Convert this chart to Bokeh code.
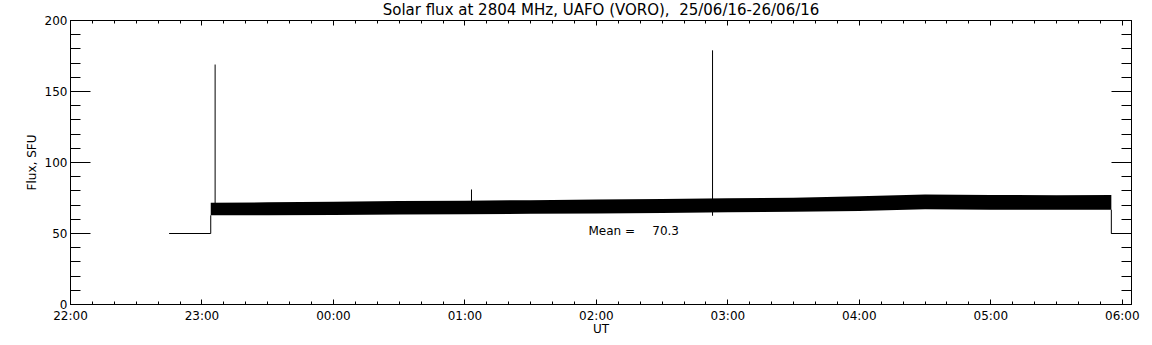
from bokeh.plotting import figure
from bokeh.models import Range1d, LinearAxis, FixedTicker, Label
from bokeh.embed import file_html
from bokeh.resources import INLINE

# ---------------- data ----------------
title_text = "Solar flux at 2804 MHz, UAFO (VORO),\u00a0 25/06/16-26/06/16"
x_tick_labels = ["22:00", "23:00", "00:00", "01:00", "02:00", "03:00", "04:00", "05:00", "06:00"]
y_ticks = [0, 50, 100, 150, 200]
y_minor = [10, 20, 30, 40, 60, 70, 80, 90, 110, 120, 130, 140, 160, 170, 180, 190]

# flat 50 SFU level before the record starts and after it stops
pre_times = ["22:45", "23:04", "23:04"]
pre_flux = [50, 50, 62.8]
post_times = ["05:55", "05:55", "06:10"]
post_flux = [66.8, 50, 50]

# envelope of the noisy record (lower / upper edge of the black band)
band_times = ["23:04", "23:30", "00:00", "00:30", "01:00", "01:30", "02:00", "02:30",
              "03:00", "03:30", "04:00", "04:30", "05:00", "05:30", "05:55"]
band_low = [62.8, 62.9, 63.0, 63.3, 63.6, 63.9, 64.1, 64.4,
            64.9, 65.3, 65.9, 67.0, 66.8, 66.7, 66.8]
band_high = [71.6, 72.0, 72.4, 72.8, 73.0, 73.5, 74.0, 74.3,
             74.8, 75.2, 76.2, 77.4, 77.1, 77.0, 77.1]

# isolated spikes
spike_times = ["23:06", "01:03", "02:53"]
spike_top = [169, 81, 179]
spike_bottom = [63, 64, 62.5]

mean_flux = 70.3


def hrs(s):
    h, m = map(int, s.split(":"))
    return ((h - 22) % 24) + m / 60.0


x_end = 8.07
p = figure(width=1152, height=345, output_backend="svg", toolbar_location=None,
           x_range=Range1d(0, x_end), y_range=Range1d(0, 200),
           min_border_left=70, min_border_right=21, min_border_top=20, min_border_bottom=41,
           background_fill_color="white", border_fill_color="white")
p.grid.visible = False
p.outline_line_color = "black"
p.outline_line_width = 1

FONT = "DejaVu Sans"

p.title.text = title_text
p.title.align = "center"
p.title.vertical_align = "top"
p.title.text_font = FONT
p.title.text_font_size = "15px"
p.title.text_font_style = "normal"
p.title.text_color = "black"
p.title.standoff = 0

# bottom axis
xa = p.xaxis[0]
xa.ticker = FixedTicker(ticks=list(range(len(x_tick_labels))),
                        minor_ticks=[i / 6.0 for i in range(0, 49)])
xa.major_label_overrides = {i: lab for i, lab in enumerate(x_tick_labels)}
xa.major_tick_in = 5
xa.major_tick_out = 0
xa.minor_tick_in = 3
xa.minor_tick_out = 0
xa.major_label_standoff = 4
xa.axis_label = "UT"
xa.axis_label_standoff = -4
xa.axis_label_text_font = FONT
xa.axis_label_text_font_size = "12px"
xa.axis_label_text_font_style = "normal"
xa.major_label_text_font = FONT
xa.major_label_text_font_size = "12px"

# left axis
ya = p.yaxis[0]
ya.ticker = FixedTicker(ticks=y_ticks, minor_ticks=y_minor)
ya.major_tick_in = 20
ya.major_tick_out = 0
ya.minor_tick_in = 10
ya.minor_tick_out = 0
ya.major_label_standoff = 3
ya.axis_label = "Flux, SFU"
ya.axis_label_standoff = 3
ya.axis_label_text_font = FONT
ya.axis_label_text_font_size = "12px"
ya.axis_label_text_font_style = "normal"
ya.major_label_text_font = FONT
ya.major_label_text_font_size = "12px"

for ax in (xa, ya):
    ax.axis_line_color = "black"
    ax.major_tick_line_color = "black"
    ax.minor_tick_line_color = "black"
    ax.major_label_text_color = "black"
    ax.axis_label_text_color = "black"

# right axis (ticks only)
ra = LinearAxis(ticker=FixedTicker(ticks=y_ticks, minor_ticks=y_minor),
                major_tick_in=20, major_tick_out=0, minor_tick_in=10, minor_tick_out=0,
                major_label_overrides={t: "" for t in y_ticks},
                major_label_text_font_size="0px", major_label_standoff=0)
p.add_layout(ra, "right")

# top axis (ticks only)
ta = LinearAxis(ticker=FixedTicker(ticks=list(range(len(x_tick_labels))),
                                   minor_ticks=[i / 6.0 for i in range(0, 49)]),
                major_tick_in=5, major_tick_out=0, minor_tick_in=3, minor_tick_out=0,
                major_label_overrides={i: "" for i in range(len(x_tick_labels))},
                major_label_text_font_size="0px", major_label_standoff=0)
p.add_layout(ta, "above")

# data
p.varea(x=[hrs(t) for t in band_times], y1=band_low, y2=band_high, fill_color="black")
p.line([hrs(t) for t in pre_times], pre_flux, line_color="black", line_width=1)
p.line([hrs(t) for t in post_times], post_flux, line_color="black", line_width=1)
p.segment(x0=[hrs(t) for t in spike_times], y0=spike_bottom,
          x1=[hrs(t) for t in spike_times], y1=spike_top, line_color="black", line_width=1)

# annotations
p.add_layout(Label(x=3.94, y=52.0, text="Mean =", text_align="left",
                   text_baseline="middle", text_font=FONT, text_font_size="12px",
                   text_color="black"))
p.add_layout(Label(x=4.425, y=52.0, text="%.1f" % mean_flux, text_align="left",
                   text_baseline="middle", text_font=FONT, text_font_size="12px",
                   text_color="black"))

open("out.html", "w").write(file_html(p, INLINE))
